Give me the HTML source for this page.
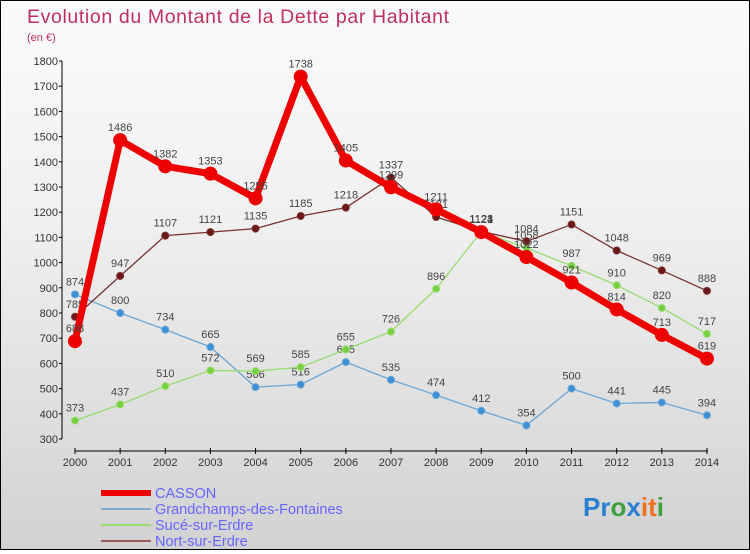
<!DOCTYPE html>
<html><head><meta charset="utf-8"><style>
body{margin:0}
#c{width:748px;height:548px;border:1px solid #000;background:linear-gradient(#fbfbfb,#f0f0f0 40%,#d2d2d2);position:relative;font-family:"Liberation Sans",sans-serif}
</style></head><body>
<div id="c">
<svg id="s" width="748" height="548" style="font-family:'Liberation Sans',sans-serif"></svg>
</div>
<script>
const years=[2000,2001,2002,2003,2004,2005,2006,2007,2008,2009,2010,2011,2012,2013,2014];
const yTicks=[300,400,500,600,700,800,900,1000,1100,1200,1300,1400,1500,1600,1700,1800];
const casson=[688,1486,1382,1353,1255,1738,1405,1299,1211,1121,1022,921,814,713,619];
const grand=[874,800,734,665,506,516,605,535,474,412,354,500,441,445,394];
const suce=[373,437,510,572,569,585,655,726,896,1123,1058,987,910,820,717];
const nort=[785,947,1107,1121,1135,1185,1218,1337,1181,1124,1084,1151,1048,969,888];
const S=document.getElementById('s');const NS='http://www.w3.org/2000/svg';
function x(i){return 74+i*45.14;}
function y(v){return 438-(v-300)*0.252;}
function mk(t,a,p){const e=document.createElementNS(NS,t);for(const k in a)e.setAttribute(k,a[k]);(p||S).appendChild(e);return e;}
function tx(s,a){const e=mk('text',a);e.textContent=s;return e;}
let t=tx('Evolution du Montant de la Dette par Habitant',{x:26,y:22,fill:'#c0305a','font-size':19.5,textLength:422});

t=tx('(en €)',{x:26,y:40,fill:'#c0305a','font-size':11});

let ax=mk('line',{x1:61,y1:60,x2:61,y2:438,stroke:'#000'});

yTicks.forEach(v=>{mk('line',{x1:58,x2:61,y1:y(v),y2:y(v),stroke:'#000'});
 let l=tx(v,{x:57,y:y(v)+4,'text-anchor':'end','font-size':11,fill:'#333'});
 });
ax=mk('line',{x1:74,y1:450,x2:707,y2:450,stroke:'#000'});

years.forEach((yr,i)=>{mk('line',{x1:x(i),x2:x(i),y1:447,y2:453,stroke:'#000'});
 let l=tx(yr,{x:x(i),y:465,'text-anchor':'middle','font-size':11,fill:'#333'});
 });
function series(d,col,w,r,dot,name){
 const g=mk('g',{});
 mk('polyline',{points:d.map((v,i)=>x(i)+','+y(v)).join(' '),fill:'none',stroke:col,'stroke-width':w,'stroke-linejoin':'round'},g);
 d.forEach((v,i)=>{const c=mk('circle',{cx:x(i),cy:y(v),r:r,fill:dot,stroke:col,'stroke-width':1},g);
  
  const l=mk('text',{x:x(i),y:y(v)-9,'text-anchor':'middle','font-size':11,fill:'#444'},g);l.textContent=v;});
}
series(grand,'#6aa6d6',1.3,3.5,'#3d8fd6','grandchamps');
series(suce,'#98dc70',1.3,3.5,'#76d040','suce');
series(nort,'#7a3030',1.3,3.5,'#6a1818','nort');
series(casson,'#ee0000',7,6.5,'#ee0000','casson');
const leg=[['CASSON','#ee0000',6],['Grandchamps-des-Fontaines','#80acd0',2],['Sucé-sur-Erdre','#98dc70',2],['Nort-sur-Erdre','#9a5a5a',2]];
leg.forEach((l,i)=>{const g=mk('g',{});
 mk('line',{x1:100,x2:150,y1:492+i*16,y2:492+i*16,stroke:l[1],'stroke-width':l[2]},g);
 const tt=mk('text',{x:154,y:497+i*16,'font-size':14.5,fill:'#6666ff'},g);tt.textContent=l[0];});
const lg=mk('text',{x:582,y:515,'font-size':26,'font-weight':'bold'});
[['P','#2a7fd0'],['r','#2a7fd0'],['o','#40a040'],['x','#2a7fd0'],['i','#f07020'],['t','#f07020'],['i','#40a040']].forEach(c=>{const s=mk('tspan',{fill:c[1]},lg);s.textContent=c[0];});
</script>
</body></html>
